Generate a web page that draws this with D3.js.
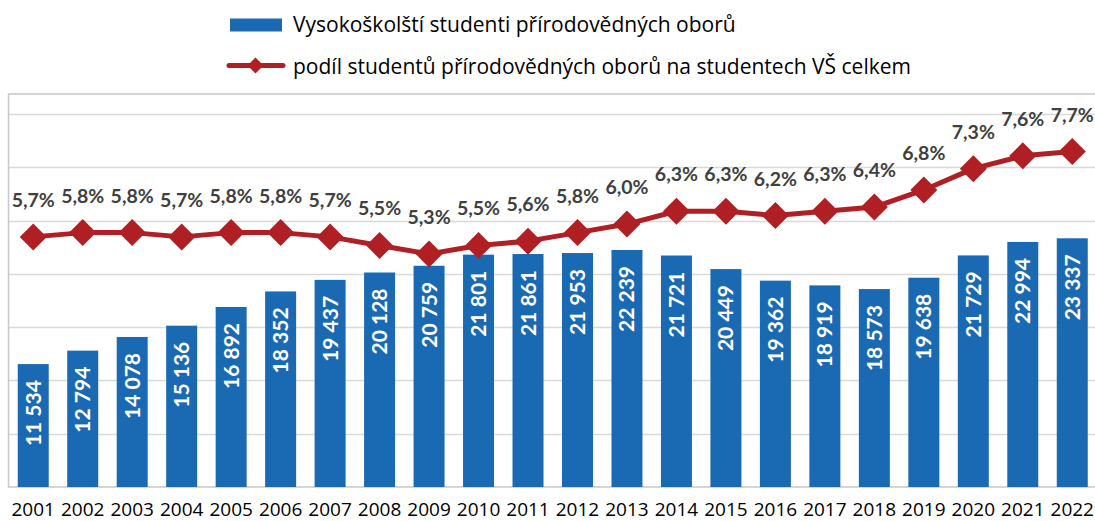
<!DOCTYPE html>
<html>
<head>
<meta charset="utf-8">
<script src="https://cdn.jsdelivr.net/npm/d3@7"></script>
<style>
  html, body { margin: 0; padding: 0; background: #fff; }
  svg { display: block; }
  text { font-family: Lato, "Open Sans", sans-serif; }
  .reg { font-family: "Open Sans", "Noto Sans", sans-serif; font-weight: 400; }
</style>
</head>
<body>
<svg id="chart" width="1095" height="521"></svg>
<script>
const years = ["2001","2002","2003","2004","2005","2006","2007","2008","2009","2010","2011","2012","2013","2014","2015","2016","2017","2018","2019","2020","2021","2022"];
const students = [11534, 12794, 14078, 15136, 16892, 18352, 19437, 20128, 20759, 21801, 21861, 21953, 22239, 21721, 20449, 19362, 18919, 18573, 19638, 21729, 22994, 23337];
const shares = [5.7, 5.8, 5.8, 5.7, 5.8, 5.8, 5.7, 5.5, 5.3, 5.5, 5.6, 5.8, 6.0, 6.3, 6.3, 6.2, 6.3, 6.4, 6.8, 7.3, 7.6, 7.7];
const yTicks = [0, 5000, 10000, 15000, 20000, 25000, 30000, 35000];
const seriesNames = ["Vysokoškolští studenti přírodovědných oborů", "podíl studentů přírodovědných oborů na studentech VŠ celkem"];

const W = 1095, H = 521;
const plot = { left: 8.5, right: 1097, top: 94, bottom: 487 };
const blue = "#1A6AB3", red = "#B01F24";

const svg = d3.select("#chart");

const x = d3.scaleBand().domain(years).range([plot.left, plot.right]).paddingInner(0.3735).paddingOuter(0.3735 / 2);
const y = d3.scaleLinear().domain([0, 35000]).range([plot.bottom, 114]);
const y2 = d3.scaleLinear().domain([0, 9.05]).range([480, plot.top]);

// gridlines
svg.append("g").selectAll("line").data(yTicks.slice(1)).join("line")
  .attr("x1", plot.left).attr("x2", W)
  .attr("y1", d => Math.round(y(d)) + 0.5).attr("y2", d => Math.round(y(d)) + 0.5)
  .attr("stroke", "#d9d9d9").attr("stroke-width", 1.5);

// frame (left, top, bottom)
svg.append("path")
  .attr("d", `M${W},${plot.top}H${plot.left}V${plot.bottom}H${W}`)
  .attr("fill", "none").attr("stroke", "#c8c8c8").attr("stroke-width", 1.5);

// bars
svg.append("g").selectAll("rect").data(students).join("rect")
  .attr("x", (d, i) => x(years[i]))
  .attr("width", x.bandwidth())
  .attr("y", d => y(d))
  .attr("height", d => y(0) - y(d))
  .attr("fill", blue);

// bar labels
svg.append("g").selectAll("text").data(students).join("text")
  .attr("transform", (d, i) => `translate(${x(years[i]) + x.bandwidth() / 2 + 7.5},${y(d) + 16}) rotate(-90)`)
  .attr("text-anchor", "end")
  .attr("fill", "#fff").attr("font-weight", "bold").attr("font-size", 21)
  .text(d => d3.format(",")(d).replace(/,/g, " "));

// line
const line = d3.line().x((d, i) => x(years[i]) + x.bandwidth() / 2).y(d => y2(d));
svg.append("path").datum(shares).attr("d", line)
  .attr("fill", "none").attr("stroke", red).attr("stroke-width", 5).attr("stroke-linejoin", "round");

// diamonds
const dia = 13.5;
svg.append("g").selectAll("path").data(shares).join("path")
  .attr("transform", (d, i) => `translate(${x(years[i]) + x.bandwidth() / 2},${y2(d)})`)
  .attr("d", `M0,${-dia}L${dia},0L0,${dia}L${-dia},0Z`)
  .attr("fill", red);

// share labels
svg.append("g").selectAll("text").data(shares).join("text")
  .attr("x", (d, i) => x(years[i]) + x.bandwidth() / 2)
  .attr("y", d => y2(d) - 30)
  .attr("text-anchor", "middle")
  .attr("fill", "#404040").attr("font-weight", "bold").attr("font-size", 19.5)
  .text(d => d.toFixed(1).replace(".", ",") + "%");

// x axis labels
svg.append("g").selectAll("text").data(years).join("text")
  .attr("class", "reg")
  .attr("x", d => x(d) + x.bandwidth() / 2)
  .attr("y", 516)
  .attr("text-anchor", "middle")
  .attr("fill", "#000").attr("font-size", 19)
  .text(d => d);

// legend
const lg = svg.append("g");
lg.append("rect").attr("x", 230).attr("y", 18.5).attr("width", 52).attr("height", 13).attr("fill", blue);
lg.append("text").attr("class", "reg").attr("x", 293).attr("y", 32).attr("font-size", 21).attr("fill", "#000").text(seriesNames[0]);
lg.append("line").attr("x1", 229).attr("x2", 283).attr("y1", 65.5).attr("y2", 65.5)
  .attr("stroke", red).attr("stroke-width", 5).attr("stroke-linecap", "round");
lg.append("path").attr("transform", "translate(255.5,65.5)").attr("d", "M0,-8L8,0L0,8L-8,0Z").attr("fill", red);
lg.append("text").attr("class", "reg").attr("x", 293).attr("y", 73.5).attr("font-size", 21).attr("fill", "#000").text(seriesNames[1]);
</script>
</body>
</html>
